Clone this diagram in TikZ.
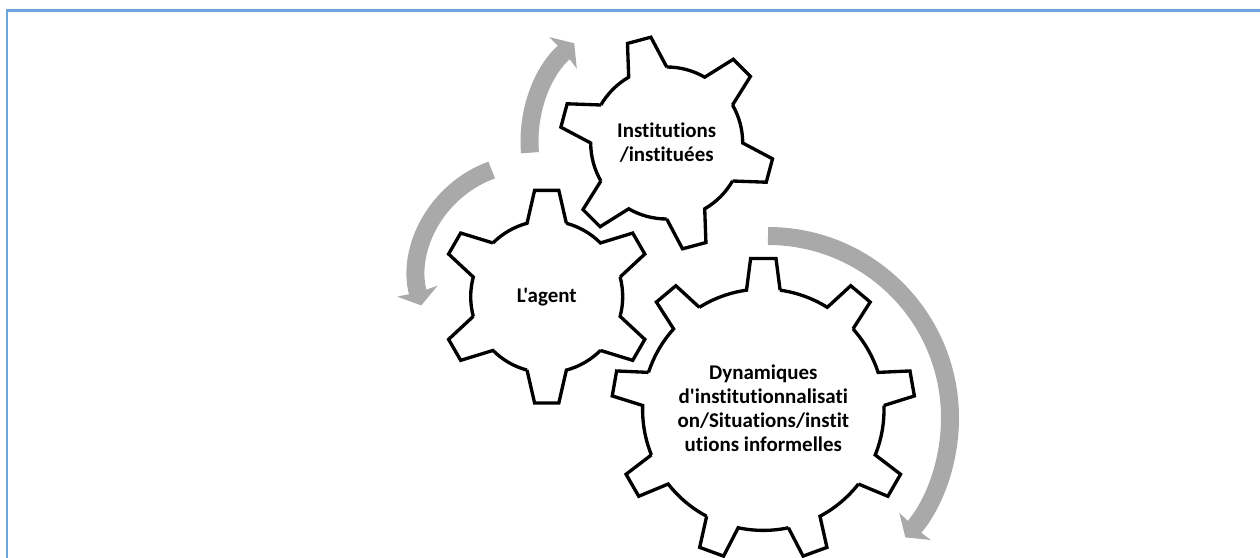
\documentclass[tikz,border=0pt]{standalone}
\usepackage{fontspec}
\newfontfamily\labelfont{Carlito}[Ligatures={TeXOff,NoCommon}]
\usetikzlibrary{arrows.meta}
\definecolor{framecol}{HTML}{6CA6DC}
\definecolor{flowcol}{HTML}{A9A9A9}

% cog outline: teeth angles, step, root radius, tip radius, half base, half tip
\newcommand{\cogpath}[6]{%
  \foreach \a in {#1} {
    ({\a-#5}:#3) -- ({\a-#6}:#4) -- ({\a+#6}:#4) -- ({\a+#5}:#3)
    arc[start angle={\a+#5}, delta angle={#2-2*#5}, radius=#3]
  }
}

\begin{document}
\begin{tikzpicture}[
  x=0.75pt, y=0.75pt,
  cog/.style={draw=black, line width=2.5pt, line join=miter},
  label/.style={align=center, font=\labelfont\fontsize{15.7}{18}\selectfont\bfseries},
  flow/.style={draw=flowcol, line width=13.5pt,
    -{Stealth[length=11pt, width=31pt, inset=1pt]}},
  >=latex]
  \useasboundingbox (0,0) rectangle (1260,557);
  \draw[framecol, line width=1.7pt] (7,-5) -- (7,546.5) -- (1265,546.5);

  \node[label] (agent) at (546.7,260) {L'agent};
  \node[label] (institutions) at (666.7,414) {Institutions\\/instituées};
  \node[label] (dynamiques) at (763.3,149) {Dynamiques\\d'institutionnalisati\\on/Situations/instit\\utions informelles};

  % the three cogs
  \draw[cog, shift={(546.7,260.3)}] \cogpath{30,90,150,210,270,330}{60}{76}{107}{15}{6.5};
  \draw[cog, shift={(666.7,414)}] \cogpath{45,105,165,225,285,345}{60}{76}{107}{15}{6.5};
  \draw[cog, shift={(763.3,147.3)}] \cogpath{10,50,90,130,170,210,250,290,330}{40}{120.7}{151.7}{8}{4.8};

  % arrows between them
  \coordinate (flowa) at (530,404.3);
  \coordinate (flowb) at (491.7,387);
  \coordinate (flowc) at (768,321);
  \draw[flow] (flowa) arc[start angle=185, end angle=131, radius=130];
  \draw[flow] (flowb) arc[start angle=110, end angle=195, radius=113];
  \draw[flow] (flowc) arc[start angle=90, end angle=-41, radius=182];
\end{tikzpicture}
\end{document}
